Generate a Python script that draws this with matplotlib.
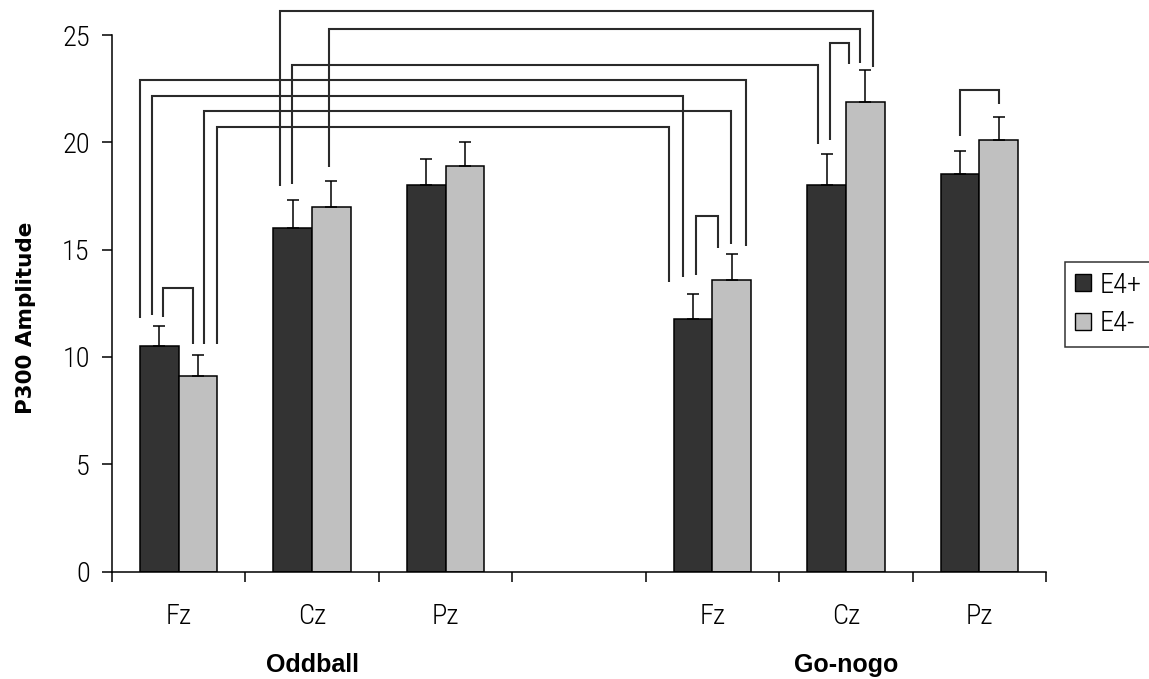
import numpy as np
import matplotlib
matplotlib.use("Agg")
import matplotlib.pyplot as plt
import matplotlib.transforms as mtransforms
from matplotlib import font_manager
from matplotlib.patches import Patch

# ---- data -------------------------------------------------------------
sites = ["Fz", "Cz", "Pz", "Fz", "Cz", "Pz"]
tasks = ["Oddball", "Go-nogo"]
slots = [0, 1, 2, 4, 5, 6]          # slot 3 is left empty between tasks
series_names = ["E4+", "E4-"]
e4_pos = [10.5, 16.0, 18.0, 11.75, 18.0, 18.5]
e4_pos_err = [0.95, 1.3, 1.2, 1.2, 1.45, 1.1]
e4_neg = [9.1, 17.0, 18.9, 13.6, 21.9, 20.1]
e4_neg_err = [1.0, 1.2, 1.1, 1.2, 1.45, 1.1]
y_ticks = [0, 5, 10, 15, 20, 25]

# Significance brackets: (group, series, leg offset, gap above error bar) for
# each end, followed by the height of the connecting line.
brackets = [
    ((1, 0, -0.093, 0.67), (4, 1, 0.060, 0.16), 26.1),
    ((1, 0, -0.003, 0.75), (4, 0, -0.065, 0.49), 23.6),
    ((1, 1, -0.015, 0.65), (4, 1, -0.037, 0.35), 25.27),
    ((0, 0, -0.143, 0.34), (3, 1, 0.105, 0.36), 22.89),
    ((0, 0, -0.057, 0.50), (3, 0, -0.072, 0.78), 22.16),
    ((0, 1, 0.045, 0.48), (3, 1, -0.008, 0.45), 21.45),
    ((0, 1, 0.1425, 0.48), (3, 0, -0.183, 0.55), 20.72),
    ((0, 0, 0.0275, 0.42), (0, 1, -0.040, 0.48), 13.19),
    ((3, 0, 0.025, 0.86), (3, 1, -0.105, 0.28), 16.57),
    ((4, 0, 0.028, 0.68), (4, 1, -0.123, 0.32), 24.65),
    ((5, 0, 0.004, 0.70), (5, 1, 0.002, 0.57), 22.45),
]

# ---- fonts ------------------------------------------------------------
installed = {f.name for f in font_manager.fontManager.ttflist}
if "Roboto Condensed" in installed:
    reg_font = dict(family="Roboto Condensed", size=20.5, weight="light")
else:
    reg_font = dict(family="Liberation Sans", size=18)
bold_font = dict(family="Liberation Sans", size=18, weight="bold")
ylabel_font = dict(family="DejaVu Sans", size=15.5, weight="bold")

dark = "#333333"
light = "#c0c0c0"
line_col = "#2a2a2a"

W, H = 1149, 679
fig = plt.figure(figsize=(W / 100, H / 100), dpi=100)
ax = fig.add_axes([112 / W, (H - 571.5) / H, (1046 - 112) / W, (571.5 - 35) / H])

width = 0.29
x = np.array(slots, dtype=float)
values = [e4_pos, e4_neg]
errors = [e4_pos_err, e4_neg_err]
colors = [dark, light]
offsets = [-width / 2, width / 2]

for vals, errs, col, off in zip(values, errors, colors, offsets):
    ax.bar(x + off, vals, width=width, color=col, edgecolor="black",
           linewidth=1.1, zorder=2)
    ax.errorbar(x + off, vals, yerr=[np.zeros(len(vals)), errs], fmt="none",
                ecolor="black", elinewidth=1.1, capsize=4, capthick=1.1,
                zorder=3)

# brackets linking compared bars
for a, b, top in brackets:
    ends = []
    for g, s, dx, gap in (a, b):
        xc = slots[g] + offsets[s] + dx
        yb = values[s][g] + errors[s][g] + gap
        ends.append((xc, yb))
    (xa, ya), (xb, yb) = ends
    ax.plot([xa, xa, xb, xb], [ya, top, top, yb], color=line_col,
            linewidth=1.5, clip_on=False, zorder=4,
            solid_joinstyle="miter", solid_capstyle="butt")

ax.set_xlim(-0.5, 6.5)
ax.set_ylim(0, 25)
for side in ("top", "right"):
    ax.spines[side].set_visible(False)
for side in ("left", "bottom"):
    ax.spines[side].set_linewidth(1.1)
    ax.spines[side].set_color("black")

ax.set_xticks(np.arange(-0.5, 7.0, 1.0))
ax.set_xticklabels([])
ax.set_yticks(y_ticks)
ax.set_yticklabels([str(t) for t in y_ticks], **reg_font)
ax.tick_params(axis="both", direction="out", length=7.5, width=1.1,
               color="black")
ax.tick_params(axis="y", pad=8.5)

# electrode and task labels under the axis
blend = mtransforms.blended_transform_factory(ax.transData, fig.transFigure)
for xs, name in zip(slots, sites):
    ax.text(xs, 1 - 623.5 / H, name, transform=blend, ha="center",
            va="baseline", **reg_font)
for xs, name in zip([1, 5], tasks):
    ax.text(xs, 1 - 672 / H, name, transform=blend, ha="center",
            va="baseline", **bold_font)

fig.text(26 / W, 1 - 318 / H, "P300 Amplitude", rotation=90, ha="center",
         va="center", **ylabel_font)

handles = [Patch(facecolor=c, edgecolor="black", linewidth=1.0)
           for c in colors]
leg = fig.legend(handles, series_names, loc="upper left",
                 bbox_to_anchor=(1065 / W, 1 - 262 / H),
                 prop=font_manager.FontProperties(**reg_font),
                 frameon=True, fancybox=False, edgecolor="black",
                 handlelength=0.55, handleheight=0.55, handletextpad=0.3,
                 borderpad=0.35, labelspacing=0.4, borderaxespad=0)
leg.get_frame().set_linewidth(1.1)

fig.savefig("out.png", dpi=100)
